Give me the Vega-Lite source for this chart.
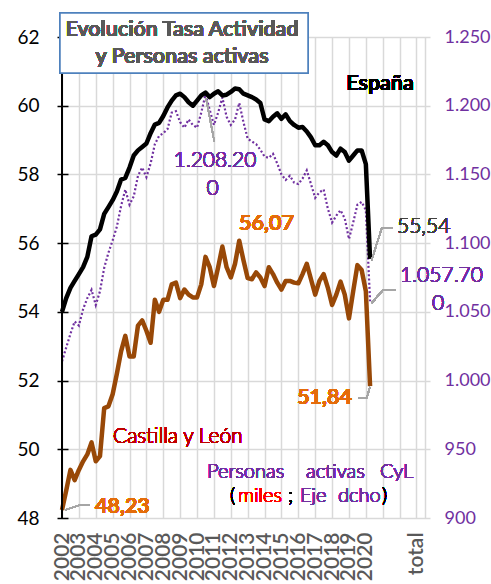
{
  "$schema": "https://vega.github.io/schema/vega-lite/v6.json",
  "width": 368,
  "height": 481,
  "autosize": {"type": "none"},
  "padding": {"left": 62, "top": 37, "right": 61, "bottom": 66},
  "background": "white",
  "config": {
    "view": {"stroke": null},
    "font": "Lato",
    "axis": {"labelOverlap": false, "labelFlush": false, "labelBound": false}
  },
  "data": {"values": [
    {"t": 2002.00, "es": 54.0, "cyl": 48.23, "act": 1014},
    {"t": 2002.25, "es": 54.4, "cyl": 48.8, "act": 1024},
    {"t": 2002.50, "es": 54.7, "cyl": 49.4, "act": 1034},
    {"t": 2002.75, "es": 54.9, "cyl": 49.1, "act": 1043},
    {"t": 2003.00, "es": 55.1, "cyl": 49.4, "act": 1040},
    {"t": 2003.25, "es": 55.3, "cyl": 49.65, "act": 1052},
    {"t": 2003.50, "es": 55.6, "cyl": 49.85, "act": 1060},
    {"t": 2003.75, "es": 56.2, "cyl": 50.2, "act": 1066},
    {"t": 2004.00, "es": 56.25, "cyl": 49.65, "act": 1055},
    {"t": 2004.25, "es": 56.4, "cyl": 49.8, "act": 1065},
    {"t": 2004.50, "es": 56.85, "cyl": 51.2, "act": 1082},
    {"t": 2004.75, "es": 57.05, "cyl": 51.25, "act": 1093},
    {"t": 2005.00, "es": 57.25, "cyl": 51.6, "act": 1102},
    {"t": 2005.25, "es": 57.5, "cyl": 52.2, "act": 1112},
    {"t": 2005.50, "es": 57.85, "cyl": 52.85, "act": 1127},
    {"t": 2005.75, "es": 57.9, "cyl": 53.3, "act": 1139},
    {"t": 2006.00, "es": 58.2, "cyl": 52.7, "act": 1128},
    {"t": 2006.25, "es": 58.55, "cyl": 52.7, "act": 1134},
    {"t": 2006.50, "es": 58.7, "cyl": 53.6, "act": 1149},
    {"t": 2006.75, "es": 58.8, "cyl": 53.75, "act": 1155},
    {"t": 2007.00, "es": 58.9, "cyl": 53.45, "act": 1148},
    {"t": 2007.25, "es": 59.2, "cyl": 53.1, "act": 1158},
    {"t": 2007.50, "es": 59.45, "cyl": 54.35, "act": 1172},
    {"t": 2007.75, "es": 59.5, "cyl": 54.0, "act": 1178},
    {"t": 2008.00, "es": 59.7, "cyl": 54.35, "act": 1180},
    {"t": 2008.25, "es": 59.95, "cyl": 54.35, "act": 1183},
    {"t": 2008.50, "es": 60.15, "cyl": 54.8, "act": 1195},
    {"t": 2008.75, "es": 60.3, "cyl": 54.85, "act": 1196},
    {"t": 2009.00, "es": 60.35, "cyl": 54.4, "act": 1188},
    {"t": 2009.25, "es": 60.25, "cyl": 54.65, "act": 1184},
    {"t": 2009.50, "es": 60.1, "cyl": 54.5, "act": 1190},
    {"t": 2009.75, "es": 60.0, "cyl": 54.42, "act": 1186},
    {"t": 2010.00, "es": 60.15, "cyl": 54.42, "act": 1184},
    {"t": 2010.25, "es": 60.3, "cyl": 54.8, "act": 1195},
    {"t": 2010.50, "es": 60.38, "cyl": 55.6, "act": 1208.2},
    {"t": 2010.75, "es": 60.25, "cyl": 55.3, "act": 1197},
    {"t": 2011.00, "es": 60.35, "cyl": 54.75, "act": 1186},
    {"t": 2011.25, "es": 60.42, "cyl": 55.3, "act": 1195},
    {"t": 2011.50, "es": 60.3, "cyl": 55.9, "act": 1206},
    {"t": 2011.75, "es": 60.32, "cyl": 55.3, "act": 1192},
    {"t": 2012.00, "es": 60.4, "cyl": 55.0, "act": 1186},
    {"t": 2012.25, "es": 60.5, "cyl": 55.4, "act": 1190},
    {"t": 2012.50, "es": 60.48, "cyl": 56.07, "act": 1202},
    {"t": 2012.75, "es": 60.35, "cyl": 55.5, "act": 1188},
    {"t": 2013.00, "es": 60.3, "cyl": 54.98, "act": 1176},
    {"t": 2013.25, "es": 60.25, "cyl": 54.95, "act": 1174},
    {"t": 2013.50, "es": 60.18, "cyl": 55.15, "act": 1172},
    {"t": 2013.75, "es": 60.08, "cyl": 55.0, "act": 1168},
    {"t": 2014.00, "es": 59.6, "cyl": 54.75, "act": 1163},
    {"t": 2014.25, "es": 59.55, "cyl": 55.3, "act": 1162},
    {"t": 2014.50, "es": 59.68, "cyl": 55.1, "act": 1165},
    {"t": 2014.75, "es": 59.78, "cyl": 54.85, "act": 1158},
    {"t": 2015.00, "es": 59.62, "cyl": 54.65, "act": 1150},
    {"t": 2015.25, "es": 59.75, "cyl": 54.9, "act": 1146},
    {"t": 2015.50, "es": 59.55, "cyl": 54.9, "act": 1149},
    {"t": 2015.75, "es": 59.44, "cyl": 54.85, "act": 1144},
    {"t": 2016.00, "es": 59.36, "cyl": 54.83, "act": 1143},
    {"t": 2016.25, "es": 59.38, "cyl": 55.1, "act": 1147},
    {"t": 2016.50, "es": 59.25, "cyl": 55.4, "act": 1153},
    {"t": 2016.75, "es": 59.08, "cyl": 54.95, "act": 1143},
    {"t": 2017.00, "es": 58.85, "cyl": 54.5, "act": 1133},
    {"t": 2017.25, "es": 58.85, "cyl": 54.9, "act": 1137},
    {"t": 2017.50, "es": 58.95, "cyl": 55.1, "act": 1139},
    {"t": 2017.75, "es": 58.85, "cyl": 54.7, "act": 1125},
    {"t": 2018.00, "es": 58.65, "cyl": 54.2, "act": 1115},
    {"t": 2018.25, "es": 58.55, "cyl": 54.5, "act": 1120},
    {"t": 2018.50, "es": 58.75, "cyl": 54.88, "act": 1124},
    {"t": 2018.75, "es": 58.65, "cyl": 54.5, "act": 1118},
    {"t": 2019.00, "es": 58.4, "cyl": 53.81, "act": 1103},
    {"t": 2019.25, "es": 58.55, "cyl": 54.6, "act": 1115},
    {"t": 2019.50, "es": 58.7, "cyl": 55.36, "act": 1128},
    {"t": 2019.75, "es": 58.7, "cyl": 55.22, "act": 1130},
    {"t": 2020.00, "es": 58.3, "cyl": 54.6, "act": 1124},
    {"t": 2020.25, "es": 55.54, "cyl": 51.84, "act": 1057.7}
  ]},
  "encoding": {
    "x": {
      "field": "t", "type": "quantitative",
      "scale": {"domain": [2002, 2023.8], "nice": false, "zero": false},
      "axis": {
        "orient": "bottom",
        "title": null,
        "values": [2002,2004,2006,2008,2010,2012,2014,2016,2018,2020,2022,2023.5],
        "format": "d",
        "labelExpr": "datum.value <= 2020 ? datum.label : ''",
        "labelAngle": -90,
        "labelFont": "Lato",
        "labelFontWeight": 600,
        "labelFontSize": 21,
        "labelColor": "#595959",
        "labelPadding": 14,
        "labelOverlap": false,
        "ticks": false,
        "domain": false,
        "grid": true,
        "gridColor": "#D9D9D9",
        "gridWidth": 1.5
      }
    }
  },
  "layer": [
    {
      "mark": {"type": "line", "color": "#7030A0", "strokeWidth": 2.2, "strokeDash": [2, 2.2]},
      "encoding": {
        "y": {
          "field": "act", "type": "quantitative",
          "scale": {"domain": [900, 1250], "nice": false, "zero": false},
          "axis": {
            "orient": "right", "title": null,
            "values": [900,950,1000,1050,1100,1150,1200,1250],
            "labelExpr": "replace(format(datum.value, ','), ',', '.')",
            "domain": false, "ticks": false, "grid": false,
            "labelPadding": 14, "labelColor": "#7030A0", "labelFontSize": 18, "labelFont": "Lato"
          }
        }
      }
    },
    {
      "encoding": {
        "x": {
          "field": "t", "type": "quantitative",
          "axis": {
            "orient": "bottom",
            "title": null,
            "values": [2003,2005,2007,2009,2011,2013,2015,2017,2019,2021,2023],
            "format": "d",
            "labelExpr": "datum.value <= 2020 ? datum.label : (datum.value === 2023 ? 'total' : '')",
            "labelAngle": -90,
            "labelFont": "Lato",
            "labelFontWeight": 600,
            "labelFontSize": 21,
            "labelColor": "#595959",
            "labelPadding": 14,
            "labelOverlap": false,
            "ticks": false,
            "domain": false,
            "grid": true,
            "gridColor": "#D9D9D9",
            "gridWidth": 1.5
          }
        }
      },
      "layer": [
        {
          "mark": {"type": "line", "color": "#000000", "strokeWidth": 4.5, "strokeJoin": "round"},
          "encoding": {
            "y": {
              "field": "es", "type": "quantitative",
              "scale": {"domain": [48, 62], "nice": false, "zero": false},
              "axis": {
                "orient": "left", "title": null,
                "values": [48,48.5,49,49.5,50,50.5,51,51.5,52,52.5,53,53.5,54,54.5,55,55.5,56,56.5,57,57.5,58,58.5,59,59.5,60,60.5,61,61.5,62],
                "format": "d",
                "labelExpr": "datum.value % 2 === 0 ? datum.label : ''",
                "offset": -6,
                "domain": false,
                "tickSize": 11, "tickColor": "#000000", "tickWidth": 1.5,
                "labelPadding": 18, "labelColor": "#000000", "labelFontSize": 19, "labelFont": "Lato",
                "grid": true, "gridColor": "#D9D9D9", "gridWidth": 1.5,
                "gridOpacity": {"condition": {"test": "datum.value % 2 === 0", "value": 1}, "value": 0}
              }
            }
          }
        },
        {
          "mark": {"type": "line", "color": "#984807", "strokeWidth": 4.5, "strokeJoin": "round"},
          "encoding": {"y": {"field": "cyl", "type": "quantitative"}}
        }
      ]
    },
    {
      "layer": [
        {
          "mark": {"type": "rule", "color": "black", "strokeWidth": 1.5},
          "encoding": {"x": {"datum": 2002, "axis": null}, "y": {"datum": 48, "axis": null, "scale": {"domain": [48, 62], "nice": false, "zero": false}}, "y2": {"datum": 62}}
        },
        {
          "mark": {"type": "rule", "color": "#A6A6A6", "strokeWidth": 1.2},
          "encoding": {"x": {"datum": 2010.53, "axis": null}, "y": {"datum": 60.224, "axis": null}, "x2": {"datum": 2011.022}, "y2": {"datum": 58.953}}
        },
        {
          "mark": {"type": "rule", "color": "#A6A6A6", "strokeWidth": 1.2},
          "encoding": {"x": {"datum": 2020.346, "axis": null}, "y": {"datum": 55.509, "axis": null}, "x2": {"datum": 2020.939}, "y2": {"datum": 56.432}}
        },
        {
          "mark": {"type": "rule", "color": "#A6A6A6", "strokeWidth": 1.2},
          "encoding": {"x": {"datum": 2020.939, "axis": null}, "y": {"datum": 56.432, "axis": null}, "x2": {"datum": 2021.608}, "y2": {"datum": 56.432}}
        },
        {
          "mark": {"type": "rule", "color": "#A6A6A6", "strokeWidth": 1.2},
          "encoding": {"x": {"datum": 2020.346, "axis": null}, "y": {"datum": 54.258, "axis": null}, "x2": {"datum": 2021.016}, "y2": {"datum": 54.636}}
        },
        {
          "mark": {"type": "rule", "color": "#A6A6A6", "strokeWidth": 1.2},
          "encoding": {"x": {"datum": 2021.016, "axis": null}, "y": {"datum": 54.636, "axis": null}, "x2": {"datum": 2021.786}, "y2": {"datum": 54.636}}
        },
        {
          "mark": {"type": "rule", "color": "#A6A6A6", "strokeWidth": 1.2},
          "encoding": {"x": {"datum": 2020.245, "axis": null}, "y": {"datum": 51.813, "axis": null}, "x2": {"datum": 2020.05}, "y2": {"datum": 51.493}}
        },
        {
          "mark": {"type": "rule", "color": "#A6A6A6", "strokeWidth": 1.2},
          "encoding": {"x": {"datum": 2020.05, "axis": null}, "y": {"datum": 51.493, "axis": null}, "x2": {"datum": 2019.535}, "y2": {"datum": 51.493}}
        },
        {
          "mark": {"type": "rule", "color": "#A6A6A6", "strokeWidth": 1.2},
          "encoding": {"x": {"datum": 2002.178, "axis": null}, "y": {"datum": 48.233, "axis": null}, "x2": {"datum": 2003.066}, "y2": {"datum": 48.378}}
        },
        {
          "mark": {"type": "rule", "color": "#A6A6A6", "strokeWidth": 1.2},
          "encoding": {"x": {"datum": 2003.066, "axis": null}, "y": {"datum": 48.378, "axis": null}, "x2": {"datum": 2003.659}, "y2": {"datum": 48.378}}
        },
        {
          "mark": {"type": "rect", "fill": "white", "stroke": "#4F81BD", "strokeWidth": 1.5},
          "encoding": {"x": {"datum": 2001.882, "axis": null}, "x2": {"datum": 2016.573}, "y": {"datum": 62.699, "axis": null}, "y2": {"datum": 60.952}}
        },
        {
          "mark": {"type": "text", "align": "center", "baseline": "alphabetic", "font": "Lato", "fontSize": 21.5, "fontWeight": 600, "color": "#595959", "lineHeight": 27, "text": ["Evolución Tasa Actividad", "y Personas activas"]},
          "encoding": {"x": {"datum": 2009.109, "axis": null}, "y": {"datum": 62.029, "axis": null}}
        },
        {
          "mark": {"type": "text", "align": "center", "baseline": "alphabetic", "font": "Lato", "fontSize": 21.5, "fontWeight": 600, "color": "#000000", "text": "España"},
          "encoding": {"x": {"datum": 2020.838, "axis": null}, "y": {"datum": 60.457, "axis": null}}
        },
        {
          "mark": {"type": "text", "align": "center", "baseline": "alphabetic", "font": "Lato", "fontSize": 21, "fontWeight": 300, "color": "#7030A0", "text": "1.208.20"},
          "encoding": {"x": {"datum": 2011.063, "axis": null}, "y": {"datum": 58.216, "axis": null}}
        },
        {
          "mark": {"type": "text", "align": "center", "baseline": "alphabetic", "font": "Lato", "fontSize": 21, "fontWeight": 300, "color": "#7030A0", "text": "0"},
          "encoding": {"x": {"datum": 2010.915, "axis": null}, "y": {"datum": 57.401, "axis": null}}
        },
        {
          "mark": {"type": "text", "align": "center", "baseline": "alphabetic", "font": "Lato", "fontSize": 21.5, "fontWeight": 600, "color": "#E46C0A", "text": "56,07"},
          "encoding": {"x": {"datum": 2014.114, "axis": null}, "y": {"datum": 56.383, "axis": null}}
        },
        {
          "mark": {"type": "text", "align": "left", "baseline": "alphabetic", "font": "Lato", "fontSize": 21, "fontWeight": 300, "color": "#404040", "text": "55,54"},
          "encoding": {"x": {"datum": 2021.845, "axis": null}, "y": {"datum": 56.295, "axis": null}}
        },
        {
          "mark": {"type": "text", "align": "left", "baseline": "alphabetic", "font": "Lato", "fontSize": 21, "fontWeight": 300, "color": "#7030A0", "text": "1.057.70"},
          "encoding": {"x": {"datum": 2022.023, "axis": null}, "y": {"datum": 54.869, "axis": null}}
        },
        {
          "mark": {"type": "text", "align": "center", "baseline": "alphabetic", "font": "Lato", "fontSize": 21, "fontWeight": 300, "color": "#7030A0", "text": "0"},
          "encoding": {"x": {"datum": 2024.274, "axis": null}, "y": {"datum": 54.054, "axis": null}}
        },
        {
          "mark": {"type": "text", "align": "right", "baseline": "alphabetic", "font": "Lato", "fontSize": 21.5, "fontWeight": 600, "color": "#E46C0A", "text": "51,84"},
          "encoding": {"x": {"datum": 2019.179, "axis": null}, "y": {"datum": 51.318, "axis": null}}
        },
        {
          "mark": {"type": "text", "align": "left", "baseline": "alphabetic", "font": "Lato", "fontSize": 21.5, "fontWeight": 600, "color": "#E46C0A", "text": "48,23"},
          "encoding": {"x": {"datum": 2003.955, "axis": null}, "y": {"datum": 48.146, "axis": null}}
        },
        {
          "mark": {"type": "text", "align": "left", "baseline": "alphabetic", "font": "Lato", "fontSize": 21, "fontWeight": 300, "color": "#C00000", "text": "Castilla y León"},
          "encoding": {"x": {"datum": 2005.021, "axis": null}, "y": {"datum": 50.183, "axis": null}}
        },
        {
          "mark": {"type": "text", "align": "left", "baseline": "alphabetic", "font": "Lato", "fontSize": 20, "fontWeight": 300, "color": "#7030A0", "text": "Personas"},
          "encoding": {"x": {"datum": 2010.59, "axis": null}, "y": {"datum": 49.164, "axis": null}}
        },
        {
          "mark": {"type": "text", "align": "left", "baseline": "alphabetic", "font": "Lato", "fontSize": 20, "fontWeight": 300, "color": "#7030A0", "text": "activas"},
          "encoding": {"x": {"datum": 2016.454, "axis": null}, "y": {"datum": 49.164, "axis": null}}
        },
        {
          "mark": {"type": "text", "align": "left", "baseline": "alphabetic", "font": "Lato", "fontSize": 20, "fontWeight": 300, "color": "#7030A0", "text": "CyL"},
          "encoding": {"x": {"datum": 2020.838, "axis": null}, "y": {"datum": 49.164, "axis": null}}
        },
        {
          "mark": {"type": "text", "align": "left", "baseline": "alphabetic", "font": "Lato", "fontSize": 20, "fontWeight": 300, "color": "#000000", "text": "("},
          "encoding": {"x": {"datum": 2011.952, "axis": null}, "y": {"datum": 48.466, "axis": null}}
        },
        {
          "mark": {"type": "text", "align": "left", "baseline": "alphabetic", "font": "Lato", "fontSize": 20, "fontWeight": 300, "color": "#FF0000", "text": "miles"},
          "encoding": {"x": {"datum": 2012.426, "axis": null}, "y": {"datum": 48.466, "axis": null}}
        },
        {
          "mark": {"type": "text", "align": "left", "baseline": "alphabetic", "font": "Lato", "fontSize": 20, "fontWeight": 300, "color": "#000000", "text": ";"},
          "encoding": {"x": {"datum": 2015.388, "axis": null}, "y": {"datum": 48.466, "axis": null}}
        },
        {
          "mark": {"type": "text", "align": "left", "baseline": "alphabetic", "font": "Lato", "fontSize": 20, "fontWeight": 300, "color": "#7030A0", "text": "Eje"},
          "encoding": {"x": {"datum": 2016.099, "axis": null}, "y": {"datum": 48.466, "axis": null}}
        },
        {
          "mark": {"type": "text", "align": "left", "baseline": "alphabetic", "font": "Lato", "fontSize": 20, "fontWeight": 300, "color": "#7030A0", "text": "dcho"},
          "encoding": {"x": {"datum": 2018.35, "axis": null}, "y": {"datum": 48.466, "axis": null}}
        },
        {
          "mark": {"type": "text", "align": "left", "baseline": "alphabetic", "font": "Lato", "fontSize": 20, "fontWeight": 300, "color": "#000000", "text": ")"},
          "encoding": {"x": {"datum": 2020.956, "axis": null}, "y": {"datum": 48.466, "axis": null}}
        }
      ]
    }
  ],
  "resolve": {"scale": {"y": "independent"}, "axis": {"x": "independent", "y": "independent"}}
}
